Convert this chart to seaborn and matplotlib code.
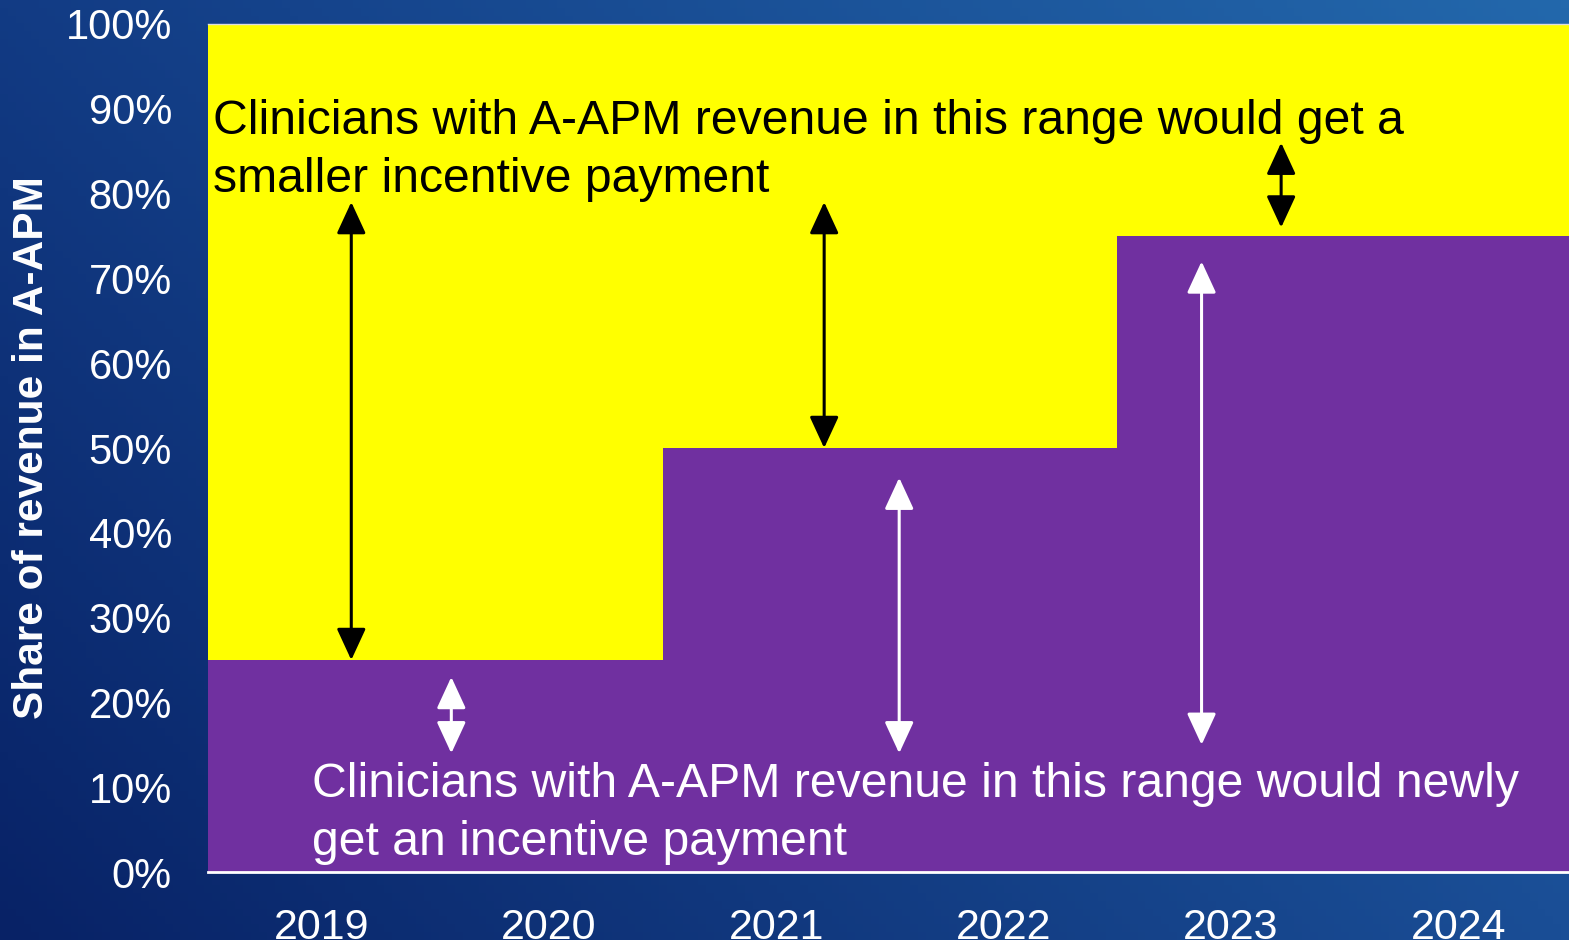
import numpy as np
import pandas as pd
import matplotlib
matplotlib.use("Agg")
import matplotlib.pyplot as plt
from matplotlib.colors import to_rgb
from matplotlib.ticker import PercentFormatter
import seaborn as sns

# data
years = ["2019", "2020", "2021", "2022", "2023", "2024"]
threshold = [0.25, 0.25, 0.50, 0.50, 0.75, 0.75]
full_share = [1.0, 1.0, 1.0, 1.0, 1.0, 1.0]

# double arrows: (x position in category units, bottom, top)
black_arrows = [(0.13, 0.25, 0.79), (2.21, 0.50, 0.79), (4.22, 0.76, 0.86)]
white_arrows = [(0.57, 0.14, 0.23), (2.54, 0.14, 0.465), (3.87, 0.15, 0.72)]

top_text = "Clinicians with A-APM revenue in this range would get a\nsmaller incentive payment"
bottom_text = "Clinicians with A-APM revenue in this range would newly\nget an incentive payment"

df = pd.DataFrame({"year": years, "threshold": threshold, "full": full_share})

sns.set_style("white")
plt.rcParams["font.family"] = ["Liberation Sans", "DejaVu Sans"]

fig = plt.figure(figsize=(15.69, 9.40), dpi=100)

# gradient background
bg = fig.add_axes([0, 0, 1, 1], zorder=-10)
tl, tr = np.array(to_rgb("#123b84")), np.array(to_rgb("#2368ac"))
bl, br = np.array(to_rgb("#082266")), np.array(to_rgb("#1a4e96"))
u = np.linspace(0, 1, 200)[None, :, None]
v = np.linspace(0, 1, 120)[:, None, None]
img = (1 - v) * ((1 - u) * tl + u * tr) + v * ((1 - u) * bl + u * br)
bg.imshow(img, aspect="auto", extent=[0, 1, 0, 1])
bg.axis("off")

ax = fig.add_axes([0.1326, 0.0723, 0.8694, 0.9022])
ax.patch.set_alpha(0)

sns.barplot(data=df, x="year", y="full", color="#FFFF00", saturation=1,
            width=1.0, linewidth=0, ax=ax)
sns.barplot(data=df, x="year", y="threshold", color="#7030A0", saturation=1,
            width=1.0, linewidth=0, ax=ax)

ax.set_xlim(-0.5, 5.5)
ax.set_ylim(0, 1)
ax.set_yticks(np.arange(0, 1.01, 0.1))
ax.yaxis.set_major_formatter(PercentFormatter(1.0, decimals=0))
ax.tick_params(axis="both", length=0, colors="white", labelsize=30)
ax.tick_params(axis="x", labelsize=31, pad=26)
ax.tick_params(axis="y", pad=26)
ax.set_xlabel("")
ax.set_ylabel("Share of revenue in A-APM", color="white", fontsize=30.5,
              fontweight="bold", labelpad=10)

for side in ["left", "right"]:
    ax.spines[side].set_visible(False)
ax.spines["bottom"].set_color("white")
ax.spines["bottom"].set_linewidth(2)
ax.spines["top"].set_color("#dddddd")
ax.spines["top"].set_linewidth(1)

style = "<|-|>,head_length=1.3,head_width=0.6"
for x, lo, hi in black_arrows:
    ax.annotate("", xy=(x, lo), xytext=(x, hi),
                arrowprops=dict(arrowstyle=style, color="black", lw=2.2,
                                mutation_scale=15, shrinkA=0, shrinkB=0))
for x, lo, hi in white_arrows:
    ax.annotate("", xy=(x, lo), xytext=(x, hi),
                arrowprops=dict(arrowstyle=style, color="white", lw=2.2,
                                mutation_scale=15, shrinkA=0, shrinkB=0))

ax.text(-0.48, 0.912, top_text, color="black", fontsize=34.7,
        va="top", ha="left", linespacing=1.38)
ax.text(-0.042, 0.13, bottom_text, color="white", fontsize=34.7,
        va="top", ha="left", linespacing=1.38)

fig.savefig("out.png", dpi=100)
